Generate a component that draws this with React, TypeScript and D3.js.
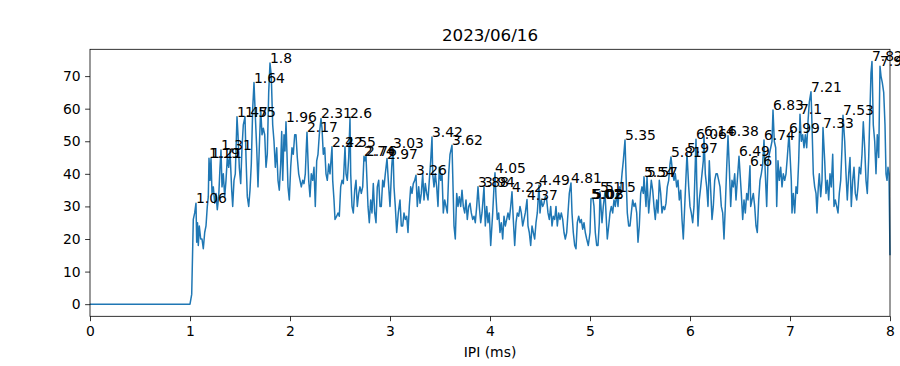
import React, { useEffect, useRef } from 'react';
import * as d3 from 'd3';

const title = '2023/06/16';
const xLabel = 'IPI (ms)';
const xTicks = [0, 1, 2, 3, 4, 5, 6, 7, 8];
const yTicks = [0, 10, 20, 30, 40, 50, 60, 70];

// [IPI (ms), value]
const trace: [number, number][] = [
  [0, 0], [1.0, 0], [1.017, 3], [1.033, 26], [1.047, 28], [1.06, 31], [1.067, 19], [1.075, 25],
  [1.083, 18], [1.093, 24], [1.107, 20], [1.12, 20], [1.133, 17], [1.147, 22], [1.16, 24], [1.173, 30],
  [1.183, 33], [1.19, 44.8], [1.2, 38], [1.21, 44.8], [1.22, 34], [1.233, 36], [1.247, 31], [1.26, 34],
  [1.273, 29], [1.287, 33], [1.3, 42], [1.31, 47.3], [1.32, 36], [1.333, 40], [1.347, 33], [1.36, 38],
  [1.373, 45], [1.387, 42], [1.4, 47], [1.417, 35], [1.427, 30], [1.44, 38], [1.453, 40], [1.47, 57.5],
  [1.48, 52], [1.493, 42], [1.507, 37], [1.52, 48], [1.533, 55], [1.55, 57.5], [1.56, 45], [1.573, 33],
  [1.587, 30], [1.6, 35], [1.613, 43], [1.627, 60], [1.64, 68], [1.653, 58], [1.667, 48], [1.68, 36],
  [1.693, 48], [1.707, 60], [1.72, 52], [1.733, 54], [1.747, 52], [1.76, 42], [1.773, 46], [1.787, 65],
  [1.8, 74], [1.813, 70], [1.827, 55], [1.84, 50], [1.853, 42], [1.867, 48], [1.88, 38], [1.893, 35],
  [1.907, 43], [1.917, 53], [1.927, 38], [1.94, 52], [1.95, 47], [1.96, 56], [1.98, 36], [1.993, 32],
  [2.007, 42], [2.02, 48], [2.033, 46], [2.047, 52], [2.06, 52], [2.073, 45], [2.087, 40], [2.1, 38],
  [2.113, 36], [2.127, 38], [2.14, 37], [2.153, 40], [2.163, 48], [2.17, 52.8], [2.187, 38], [2.2, 33],
  [2.213, 40], [2.227, 38], [2.24, 42], [2.253, 30], [2.267, 44], [2.28, 46], [2.293, 52], [2.31, 57],
  [2.32, 54], [2.333, 46], [2.347, 48], [2.36, 40], [2.373, 38], [2.387, 43], [2.4, 40], [2.42, 48.3],
  [2.427, 38], [2.44, 32], [2.45, 26], [2.467, 27], [2.48, 28], [2.493, 27], [2.507, 36], [2.52, 38],
  [2.533, 37], [2.55, 48.3], [2.56, 40], [2.573, 38], [2.587, 45], [2.6, 57], [2.607, 40], [2.62, 30],
  [2.633, 28], [2.647, 35], [2.66, 38], [2.673, 30], [2.687, 34], [2.7, 36], [2.713, 34], [2.727, 36],
  [2.74, 45.4], [2.75, 44], [2.76, 45.4], [2.78, 30], [2.793, 25], [2.807, 32], [2.82, 28], [2.833, 37],
  [2.847, 28], [2.86, 25], [2.873, 36], [2.887, 38], [2.9, 30], [2.913, 30], [2.927, 38], [2.94, 36],
  [2.953, 40], [2.97, 44.7], [2.983, 38], [3.0, 30], [3.017, 42], [3.03, 47.8], [3.04, 36], [3.053, 30],
  [3.067, 22], [3.083, 28], [3.1, 32], [3.113, 24], [3.127, 24], [3.14, 28], [3.153, 26], [3.167, 27],
  [3.18, 22], [3.193, 30], [3.207, 36], [3.22, 34], [3.233, 37], [3.247, 38], [3.26, 39.6], [3.273, 30],
  [3.287, 36], [3.3, 31], [3.313, 34], [3.327, 40], [3.34, 32], [3.353, 37], [3.367, 34], [3.38, 32],
  [3.393, 38], [3.407, 44], [3.42, 51.3], [3.427, 40], [3.44, 36], [3.453, 40], [3.467, 36], [3.48, 30],
  [3.493, 42], [3.507, 38], [3.52, 40], [3.533, 28], [3.547, 32], [3.56, 30], [3.573, 28], [3.587, 40],
  [3.6, 46], [3.62, 48.8], [3.627, 40], [3.64, 24], [3.653, 20], [3.667, 34], [3.68, 30], [3.693, 33],
  [3.707, 30], [3.72, 35], [3.733, 30], [3.747, 28], [3.76, 32], [3.773, 26], [3.787, 30], [3.8, 31],
  [3.813, 28], [3.827, 26], [3.84, 27], [3.853, 25], [3.867, 30], [3.88, 36], [3.893, 30], [3.907, 25],
  [3.92, 28], [3.94, 36], [3.953, 24], [3.967, 30], [3.98, 25], [3.993, 28], [4.007, 18], [4.027, 28],
  [4.04, 36], [4.05, 40.3], [4.06, 33], [4.073, 26], [4.087, 28], [4.1, 22], [4.113, 25], [4.127, 20],
  [4.14, 27], [4.153, 24], [4.167, 26], [4.18, 28], [4.193, 26], [4.207, 30], [4.22, 34.5], [4.233, 26],
  [4.247, 18], [4.26, 25], [4.273, 28], [4.287, 27], [4.3, 30], [4.313, 28], [4.327, 24], [4.34, 26],
  [4.353, 28], [4.37, 32.1], [4.38, 24], [4.393, 22], [4.407, 18], [4.42, 24], [4.433, 22], [4.447, 20],
  [4.46, 25], [4.473, 28], [4.49, 36.5], [4.5, 28], [4.513, 32], [4.527, 30], [4.54, 31], [4.553, 33],
  [4.567, 32], [4.58, 28], [4.593, 26], [4.607, 30], [4.62, 24], [4.633, 27], [4.647, 26], [4.66, 30],
  [4.673, 24], [4.687, 28], [4.7, 26], [4.713, 28], [4.727, 26], [4.74, 22], [4.753, 20], [4.767, 22],
  [4.78, 28], [4.793, 34], [4.81, 37.2], [4.82, 28], [4.833, 22], [4.847, 18], [4.86, 17], [4.873, 25],
  [4.887, 27], [4.9, 25], [4.913, 26], [4.927, 23], [4.94, 25], [4.953, 22], [4.967, 20], [4.983, 18],
  [5.0, 22], [5.01, 32.4], [5.02, 32.4], [5.03, 32.4], [5.04, 30], [5.053, 22], [5.067, 18], [5.08, 18],
  [5.093, 25], [5.1, 34.5], [5.12, 25], [5.133, 30], [5.15, 34.5], [5.16, 28], [5.173, 20], [5.187, 24],
  [5.2, 28], [5.213, 30], [5.227, 28], [5.24, 32], [5.253, 30], [5.267, 34], [5.28, 30], [5.293, 36],
  [5.307, 35], [5.32, 40], [5.333, 44], [5.35, 50.4], [5.36, 40], [5.373, 28], [5.387, 24], [5.4, 24],
  [5.413, 28], [5.427, 32], [5.44, 30], [5.453, 31], [5.467, 28], [5.48, 19], [5.493, 24], [5.507, 34],
  [5.52, 36], [5.533, 34], [5.54, 39.1], [5.56, 30], [5.57, 39.1], [5.587, 28], [5.6, 33], [5.613, 38],
  [5.627, 35], [5.64, 30], [5.653, 26], [5.667, 32], [5.68, 28], [5.693, 38], [5.707, 34], [5.72, 28],
  [5.733, 30], [5.747, 29], [5.76, 31], [5.773, 36], [5.787, 38], [5.8, 43], [5.81, 45.2], [5.827, 40],
  [5.84, 38], [5.853, 40], [5.867, 36], [5.88, 38], [5.893, 32], [5.907, 35], [5.92, 26], [5.933, 20],
  [5.947, 30], [5.97, 46.3], [5.987, 36], [6.0, 30], [6.013, 28], [6.027, 25], [6.04, 30], [6.06, 50.6],
  [6.067, 38], [6.08, 24], [6.093, 32], [6.107, 36], [6.12, 40], [6.133, 44], [6.14, 51.7], [6.153, 40],
  [6.167, 36], [6.18, 30], [6.193, 44], [6.207, 35], [6.22, 26], [6.233, 30], [6.247, 38], [6.26, 40],
  [6.273, 40], [6.287, 38], [6.3, 36], [6.313, 30], [6.327, 28], [6.34, 20], [6.353, 30], [6.367, 42],
  [6.38, 51.7], [6.393, 42], [6.407, 30], [6.42, 38], [6.433, 36], [6.447, 40], [6.46, 32], [6.473, 38],
  [6.49, 45.4], [6.513, 34], [6.527, 26], [6.54, 32], [6.553, 28], [6.567, 34], [6.58, 32], [6.6, 42.5],
  [6.607, 30], [6.62, 32], [6.633, 34], [6.647, 30], [6.66, 24], [6.673, 22], [6.687, 32], [6.7, 38],
  [6.713, 40], [6.727, 43], [6.74, 50.4], [6.753, 40], [6.767, 30], [6.78, 44], [6.793, 46], [6.807, 48],
  [6.82, 50], [6.83, 59.6], [6.843, 50], [6.857, 48], [6.867, 30], [6.88, 44], [6.893, 38], [6.907, 42],
  [6.92, 36], [6.933, 40], [6.947, 38], [6.96, 40], [6.973, 45], [6.99, 52.4], [7.0, 46], [7.013, 38],
  [7.02, 28], [7.033, 34], [7.047, 28], [7.06, 36], [7.073, 34], [7.087, 44], [7.1, 58.3], [7.113, 50],
  [7.127, 52], [7.14, 48], [7.153, 52], [7.167, 48], [7.18, 56], [7.193, 62], [7.21, 65.2], [7.22, 55],
  [7.233, 40], [7.247, 36], [7.26, 34], [7.27, 28], [7.283, 36], [7.293, 40], [7.307, 33], [7.32, 38],
  [7.33, 54.2], [7.347, 44], [7.36, 34], [7.373, 38], [7.387, 32], [7.4, 40], [7.413, 36], [7.427, 46],
  [7.44, 30], [7.453, 32], [7.467, 30], [7.48, 28], [7.493, 34], [7.507, 38], [7.52, 48], [7.53, 58],
  [7.547, 50], [7.56, 40], [7.573, 32], [7.587, 40], [7.6, 45], [7.613, 30], [7.627, 38], [7.64, 42],
  [7.653, 34], [7.667, 32], [7.68, 36], [7.693, 42], [7.707, 40], [7.72, 46], [7.733, 56], [7.747, 48],
  [7.76, 38], [7.773, 34], [7.787, 45], [7.8, 60], [7.81, 71], [7.82, 74.5], [7.833, 55], [7.847, 50],
  [7.86, 40], [7.873, 52], [7.887, 45], [7.9, 73], [7.91, 70], [7.923, 68], [7.937, 65], [7.95, 55],
  [7.96, 40], [7.97, 38], [7.98, 42], [7.99, 40], [8.0, 15],
];

// peaks that carry a text label (their x value, as printed)
const peakLabels = [
  '1.06', '1.19', '1.21', '1.31', '1.47', '1.55', '1.64', '1.8', '1.96', '2.17', '2.31', '2.42',
  '2.55', '2.6', '2.74', '2.76', '2.97', '3.03', '3.26', '3.42', '3.62', '3.88', '3.94', '4.05',
  '4.22', '4.37', '4.49', '4.81', '5.01', '5.02', '5.03', '5.1', '5.15', '5.35', '5.54', '5.57',
  '5.81', '5.97', '6.06', '6.14', '6.38', '6.49', '6.6', '6.74', '6.83', '6.99', '7.1', '7.21',
  '7.33', '7.53', '7.82', '7.9',
];

const W = 900;
const H = 366;
const margin = { top: 49.3, right: 10, bottom: 49.7, left: 90 };
const font = 'DejaVu Sans, sans-serif';

const App = () => {
  const svgRef = useRef<SVGSVGElement>(null);

  useEffect(() => {
    const svg = d3.select(svgRef.current);
    svg.selectAll('*').remove();

    const x0 = margin.left;
    const x1 = W - margin.right;
    const y0 = H - margin.bottom;
    const y1 = margin.top;

    const maxY = d3.max(trace, (d) => d[1]) as number;
    const pad = maxY * 0.05;
    const xScale = d3.scaleLinear().domain([0, 8]).range([x0, x1]);
    const yScale = d3.scaleLinear().domain([-pad, maxY + pad]).range([y0, y1]);

    // line
    const line = d3
      .line<[number, number]>()
      .x((d) => xScale(d[0]))
      .y((d) => yScale(d[1]));

    svg
      .append('path')
      .datum(trace)
      .attr('d', line)
      .attr('fill', 'none')
      .attr('stroke', '#1f77b4')
      .attr('stroke-width', 1.5)
      .attr('stroke-linejoin', 'round');

    // frame
    svg
      .append('rect')
      .attr('x', x0)
      .attr('y', y1)
      .attr('width', x1 - x0)
      .attr('height', y0 - y1)
      .attr('fill', 'none')
      .attr('stroke', '#000')
      .attr('stroke-width', 0.8);

    // x axis
    const xAxis = svg
      .append('g')
      .attr('transform', `translate(0,${y0})`)
      .call(d3.axisBottom(xScale).tickValues(xTicks).tickFormat(d3.format('d')).tickSize(4.9).tickPadding(4.5));
    xAxis.select('.domain').remove();

    // y axis
    const yAxis = svg
      .append('g')
      .attr('transform', `translate(${x0},0)`)
      .call(d3.axisLeft(yScale).tickValues(yTicks).tickFormat(d3.format('d')).tickSize(4.9).tickPadding(4.5));
    yAxis.select('.domain').remove();

    svg.selectAll('.tick line').attr('stroke', '#000').attr('stroke-width', 0.8);
    svg
      .selectAll('.tick text')
      .attr('fill', '#000')
      .style('font-family', font)
      .style('font-size', '13.9px');

    // peak labels
    svg
      .append('g')
      .selectAll('text')
      .data(peakLabels)
      .enter()
      .append('text')
      .attr('x', (d) => xScale(+d))
      .attr('y', (d) => {
        const p = trace.reduce((a, b) => (Math.abs(b[0] - +d) < Math.abs(a[0] - +d) ? b : a));
        return yScale(p[1]);
      })
      .style('font-family', font)
      .style('font-size', '13.9px')
      .attr('fill', '#000')
      .text((d) => d);

    // title and x label
    svg
      .append('text')
      .attr('x', (x0 + x1) / 2)
      .attr('y', y1 - 8)
      .attr('text-anchor', 'middle')
      .style('font-family', font)
      .style('font-size', '16.7px')
      .text(title);

    svg
      .append('text')
      .attr('x', (x0 + x1) / 2)
      .attr('y', 357)
      .attr('text-anchor', 'middle')
      .style('font-family', font)
      .style('font-size', '13.9px')
      .text(xLabel);
  }, []);

  return (
    <svg
      ref={svgRef}
      width={W}
      height={H}
      style={{ position: 'absolute', left: 0, top: 0, background: '#fff' }}
    />
  );
};

export default App;
